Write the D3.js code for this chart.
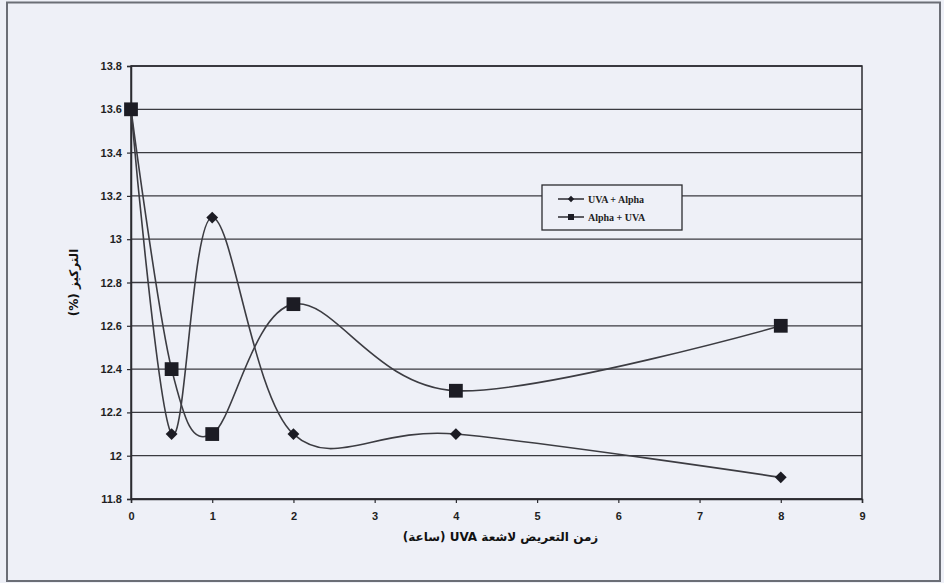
<!DOCTYPE html>
<html>
<head>
<meta charset="utf-8">
<script src="https://cdn.jsdelivr.net/npm/d3@7"></script>
<style>
  html, body { margin: 0; padding: 0; background: #eef0f7; }
  svg { display: block; }
</style>
</head>
<body>
<svg id="chart" width="944" height="583"></svg>
<script>
// Exposure times (hours)
const hours = [0, 0.5, 1, 2, 4, 8];
// Series values (%)
const uvaAlpha = [13.6, 12.1, 13.1, 12.1, 12.1, 11.9];
const alphaUva = [13.6, 12.4, 12.1, 12.7, 12.3, 12.6];
const seriesNames = ["UVA + Alpha", "Alpha + UVA"];
const xTicks = [0, 1, 2, 3, 4, 5, 6, 7, 8, 9];
const yTicks = [11.8, 12, 12.2, 12.4, 12.6, 12.8, 13, 13.2, 13.4, 13.6, 13.8];
const xTitle = "زمن التعريض لاشعة UVA (ساعة)";
const yTitle = "التركيز (%)";

const svg = d3.select("#chart");
const W = 944, H = 583;
const m = { left: 131, right: 944 - 862, top: 66, bottom: 583 - 499 };

// outer frame
svg.append("rect").attr("x", 7).attr("y", 2.5).attr("width", W - 11).attr("height", H - 4.5)
  .attr("fill", "#eef0f7").attr("stroke", "#6b6e76").attr("stroke-width", 2);

const x = d3.scaleLinear().domain([0, 9]).range([m.left, W - m.right]);
const y = d3.scaleLinear().domain([11.8, 13.8]).range([H - m.bottom, m.top]);

const ink = "#2b2b30";

// horizontal gridlines
svg.append("g").selectAll("line").data(yTicks).join("line")
  .attr("x1", x(0)).attr("x2", x(9))
  .attr("y1", d => y(d)).attr("y2", d => y(d))
  .attr("stroke", "#3a3a40").attr("stroke-width", 1.3);

// plot border
svg.append("rect").attr("x", x(0)).attr("y", y(13.8))
  .attr("width", x(9) - x(0)).attr("height", y(11.8) - y(13.8))
  .attr("fill", "none").attr("stroke", ink).attr("stroke-width", 1.5);

// axes
const yAxis = d3.axisLeft(y).tickValues(yTicks).tickSize(4).tickFormat(d3.format("~g"));
const xAxis = d3.axisBottom(x).tickValues(xTicks).tickSize(4).tickFormat(d3.format("d"));
const gy = svg.append("g").attr("transform", `translate(${x(0)},0)`).call(yAxis);
const gx = svg.append("g").attr("transform", `translate(0,${y(11.8)})`).call(xAxis);
[gx, gy].forEach(g => {
  g.select(".domain").attr("stroke", ink).attr("stroke-width", 1.5);
  g.selectAll(".tick line").attr("stroke", ink).attr("stroke-width", 1.2);
  g.selectAll("text").attr("fill", "#1e1e22")
    .style("font-family", "'Liberation Sans', Arial, sans-serif")
    .style("font-size", "11px").style("font-weight", "bold");
});
gy.selectAll("text").attr("x", -9);
gx.selectAll("text").attr("y", 13);

// axis titles
svg.append("text").attr("x", (x(0) + x(9)) / 2 + 4).attr("y", 541)
  .attr("text-anchor", "middle").attr("direction", "rtl")
  .style("font-family", "'DejaVu Sans', 'Noto Sans', sans-serif")
  .style("font-size", "12px").style("font-weight", "bold").attr("fill", "#111")
  .text(xTitle);
svg.append("text").attr("transform", `translate(78,${(y(11.8) + y(13.8)) / 2}) rotate(-90)`)
  .attr("text-anchor", "middle").attr("direction", "rtl")
  .style("font-family", "'DejaVu Sans', 'Noto Sans', sans-serif")
  .style("font-size", "12px").style("font-weight", "bold").attr("fill", "#111")
  .text(yTitle);

// smoothed lines
const line = d3.line().x((d, i) => x(hours[i])).y(d => y(d)).curve(d3.curveCardinal.tension(0));
const series = [
  { name: seriesNames[0], values: uvaAlpha, rotate: 45, size: 70 },
  { name: seriesNames[1], values: alphaUva, rotate: 0, size: 190 }
];
series.forEach(s => {
  svg.append("path").attr("d", line(s.values)).attr("fill", "none")
    .attr("stroke", "#3c3c42").attr("stroke-width", 1.6);
});
series.forEach(s => {
  svg.append("g").selectAll("path").data(s.values).join("path")
    .attr("transform", (d, i) => `translate(${x(hours[i])},${y(d)}) rotate(${s.rotate})`)
    .attr("d", d3.symbol().type(d3.symbolSquare).size(s.size))
    .attr("fill", "#1c1c24");
});

// legend
const lg = svg.append("g").attr("transform", "translate(542,185)");
lg.append("rect").attr("width", 140).attr("height", 45)
  .attr("fill", "#eef0f7").attr("stroke", ink).attr("stroke-width", 1.3);
series.forEach((s, i) => {
  const yy = 14 + i * 18;
  lg.append("line").attr("x1", 16).attr("x2", 42).attr("y1", yy).attr("y2", yy)
    .attr("stroke", "#2b2b30").attr("stroke-width", 1.5);
  lg.append("path").attr("transform", `translate(29,${yy}) rotate(${s.rotate})`)
    .attr("d", d3.symbol().type(d3.symbolSquare).size(i === 0 ? 20 : 36)).attr("fill", "#1c1c24");
  lg.append("text").attr("x", 46).attr("y", yy + 3.5)
    .style("font-family", "'Liberation Serif', 'Times New Roman', serif")
    .style("font-size", "10px").style("font-weight", "bold").attr("fill", "#222")
    .text(s.name);
});
</script>
</body>
</html>
